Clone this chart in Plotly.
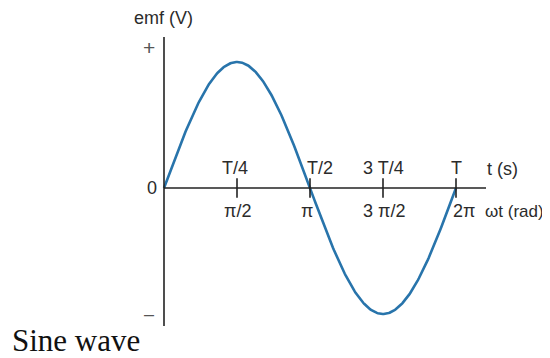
import numpy as np
import plotly.graph_objects as go

# data
amplitude = 1.0
tick_rad = [np.pi / 2, np.pi, 3 * np.pi / 2, 2 * np.pi]
tick_time = ["T/4", "T/2", "3 T/4", "T"]
tick_angle = ["\u03c0/2", "\u03c0", "3 \u03c0/2", "2\u03c0"]
wt = np.linspace(0, 2 * np.pi, 300)
emf = amplitude * np.sin(wt)

# page body has an 8px margin, so the figure is shifted by that
OFF = 8
W, H = 550 - OFF, 358 - OFF
# pixel anchors (window coordinates) for the scales
px_x0, px_x2pi = 164, 456
px_y0, px_y1 = 188, 62
sx = (px_x2pi - px_x0) / (2 * np.pi)
sy = px_y0 - px_y1
xr = [-(px_x0 - OFF) / sx, (W - (px_x0 - OFF)) / sx]
yr = [((px_y0 - OFF) - H) / sy, (px_y0 - OFF) / sy]


def dx(p):
    return (p - px_x0) / sx


def dy(p):
    return (px_y0 - p) / sy


fig = go.Figure()
fig.add_trace(go.Scatter(x=wt, y=emf, mode="lines",
                         line=dict(color="#2874ab", width=2.6), hoverinfo="skip"))
# axes
fig.add_shape(type="line", x0=0, x1=0, y0=dy(37), y1=dy(326),
              line=dict(color="#222", width=1.6))
fig.add_shape(type="line", x0=0, x1=dx(486), y0=0, y1=0,
              line=dict(color="#222", width=1.6))
fig.add_trace(go.Scatter(x=tick_rad, y=[0] * 4, mode="markers",
                         marker=dict(symbol="line-ns", size=14,
                                     line=dict(color="#222", width=1.6)),
                         hoverinfo="skip"))

lab = dict(family="Liberation Sans, Arial", size=18, color="#2b2b2b")
top_px = [235, 320, 383, 456]
bot_px = [237, 307, 384, 464]
for t, a, tp, bp in zip(tick_time, tick_angle, top_px, bot_px):
    fig.add_annotation(x=dx(tp), y=dy(168), text=t, showarrow=False, font=lab)
    fig.add_annotation(x=dx(bp), y=dy(211), text=a, showarrow=False, font=lab)

fig.add_annotation(x=dx(485), y=dy(169), text="t (s)", showarrow=False,
                   xanchor="left", font=lab)
fig.add_annotation(x=dx(483), y=dy(211), text="\u03c9t (rad)", showarrow=False,
                   xanchor="left", font=dict(lab, size=17))
fig.add_annotation(x=dx(152), y=0, text="0", showarrow=False, font=lab)
fig.add_annotation(x=dx(149), y=dy(47), text="+", showarrow=False,
                   font=dict(lab, size=21, color="#555"))
fig.add_annotation(x=dx(149), y=dy(314), text="\u2013", showarrow=False,
                   font=dict(lab, size=18, color="#555"))
fig.add_annotation(x=dx(132), y=dy(18), text="emf (V)", showarrow=False,
                   xanchor="left", font=lab)
fig.add_annotation(x=dx(10), y=dy(340), text="Sine wave", showarrow=False,
                   xanchor="left",
                   font=dict(family="Liberation Serif, Times New Roman", size=31,
                             color="#111"))

fig.update_layout(width=W, height=H, margin=dict(l=0, r=0, t=0, b=0),
                  plot_bgcolor="white", paper_bgcolor="white", showlegend=False,
                  xaxis=dict(range=xr, visible=False, fixedrange=True),
                  yaxis=dict(range=yr, visible=False, fixedrange=True))
fig.write_html("out.html")
